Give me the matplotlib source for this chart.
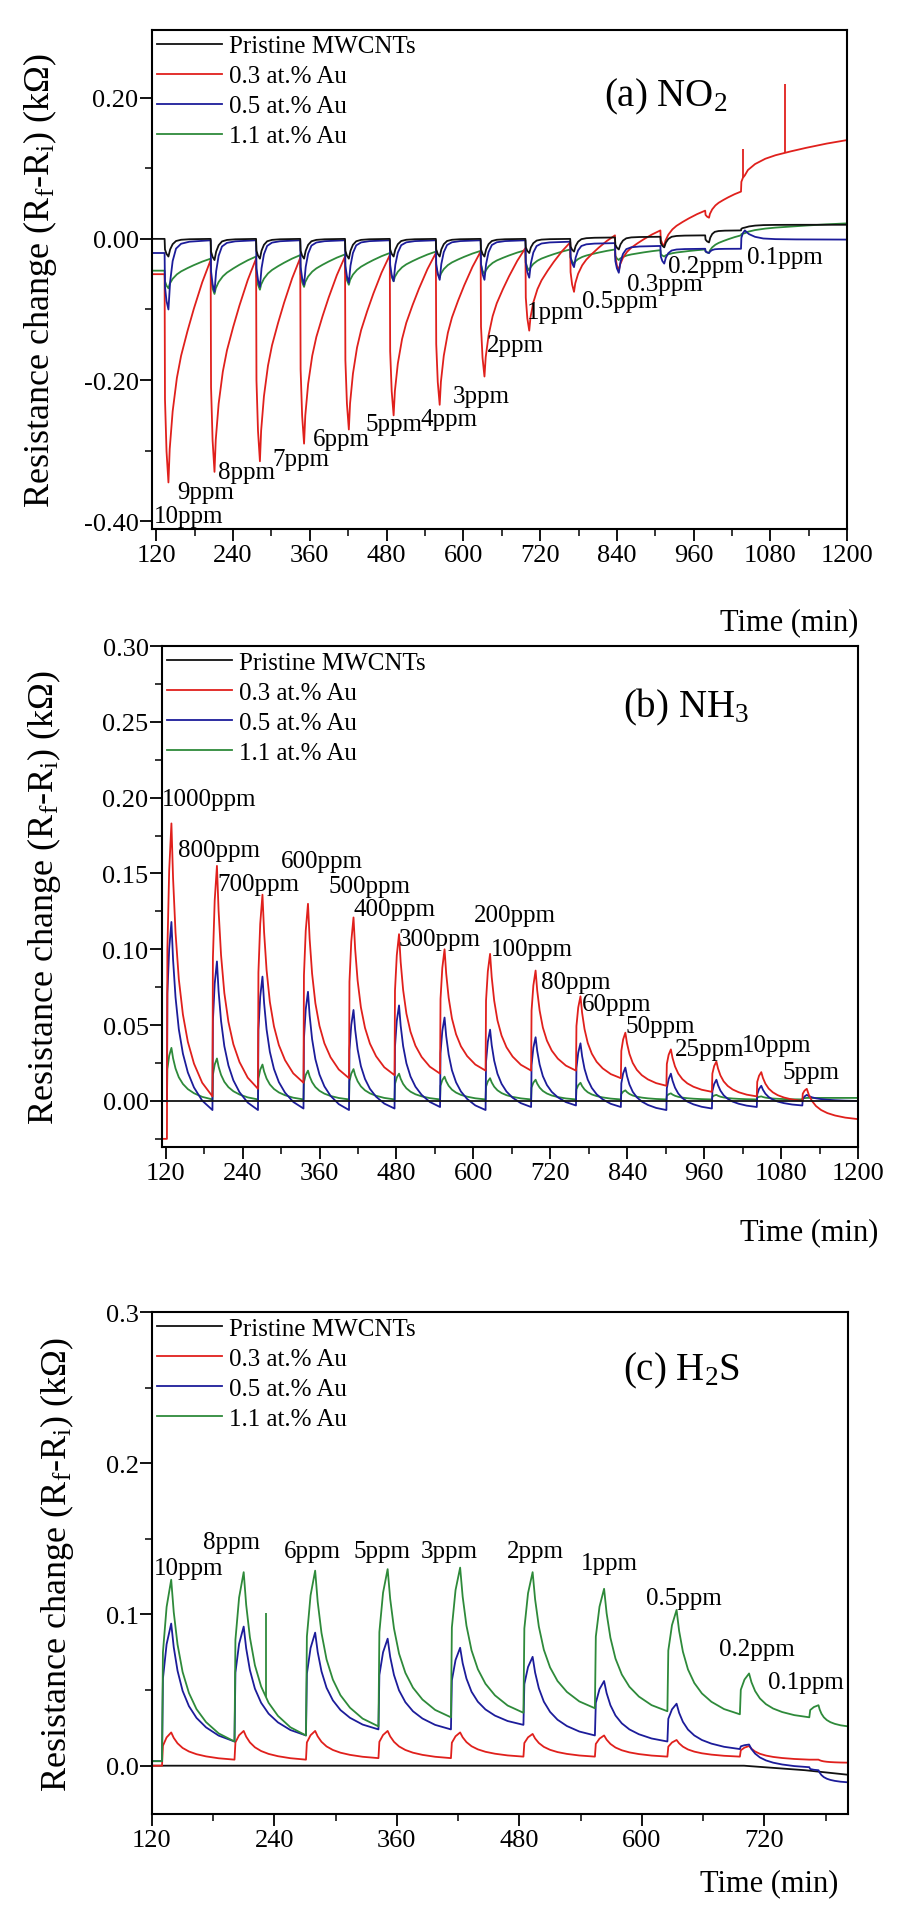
import numpy as np
import matplotlib
matplotlib.use("Agg")
import matplotlib.pyplot as plt
from matplotlib.ticker import MultipleLocator

plt.rcParams["font.family"] = ["Liberation Serif", "DejaVu Serif"]
plt.rcParams["mathtext.fontset"] = "custom"
plt.rcParams["mathtext.rm"] = "Liberation Serif"
plt.rcParams["mathtext.it"] = "Liberation Serif:italic"

# response shapes (fraction of cycle time -> fraction of amplitude)
RISE_S = [0.0, 0.1, 0.5, 1.0]
RISE_R = [0.0, 0.6, 0.85, 1.0]
SLOW_S = [0.0, 0.03, 0.1, 0.2, 0.3, 0.45, 0.6, 0.8, 1.0]
SLOW_R = [1.0, 0.85, 0.68, 0.53, 0.43, 0.32, 0.22, 0.1, 0.0]
FAST_S = [0.0, 0.04, 0.1, 0.18, 0.3, 0.5, 1.0]
FAST_R = [1.0, 0.6, 0.3, 0.12, 0.05, 0.02, 0.0]
DECAY_S = [0.0, 0.04, 0.1, 0.18, 0.28, 0.4, 0.55, 0.75, 1.0]
DECAY_R = [1.0, 0.8, 0.6, 0.43, 0.3, 0.2, 0.12, 0.05, 0.0]

# ---- (a) NO2 ----
a_onset = [133, 205, 276, 345, 415, 485, 557, 627, 697, 767, 837, 908, 978, 1034]
a_expo = 6
a_black_base = [0.000, 0.000, 0.000, 0.000, 0.000, 0.000, 0.000, 0.000, 0.000, 0.000, 0.002, 0.003, 0.005, 0.012]
a_black_peak = [-0.025, -0.030, -0.028, -0.028, -0.028, -0.025, -0.025, -0.025, -0.020, -0.018, -0.015, -0.012, -0.005, 0.016]
a_black_end = 0.020
a_red_base = [-0.050, -0.030, -0.028, -0.027, -0.025, -0.023, -0.020, -0.018, -0.013, -0.005, 0.005, 0.012, 0.040, 0.067]
a_red_peak = [-0.345, -0.330, -0.315, -0.290, -0.270, -0.250, -0.235, -0.195, -0.130, -0.075, -0.045, -0.010, 0.030, 0.090]
a_red_end = 0.140
a_red_spike_t = [1037, 1103]
a_red_spike_v = [0.128, 0.220]
a_blue_base = [-0.020, -0.002, -0.002, -0.002, -0.002, -0.002, -0.002, -0.002, -0.002, -0.004, -0.006, -0.010, -0.014, -0.014]
a_blue_peak = [-0.100, -0.075, -0.068, -0.065, -0.062, -0.060, -0.058, -0.058, -0.055, -0.040, -0.048, -0.035, -0.020, 0.012]
a_blue_end = -0.001
a_green_base = [-0.045, -0.028, -0.025, -0.023, -0.022, -0.020, -0.018, -0.017, -0.016, -0.015, -0.015, -0.016, -0.015, 0.005]
a_green_peak = [-0.070, -0.078, -0.072, -0.068, -0.065, -0.060, -0.055, -0.050, -0.045, -0.035, -0.030, -0.025, -0.020, 0.008]
a_green_end = 0.022
a_lbl_text = ["10ppm", "9ppm", "8ppm", "7ppm", "6ppm", "5ppm", "4ppm", "3ppm", "2ppm",
              "1ppm", "0.5ppm", "0.3ppm", "0.2ppm", "0.1ppm"]
a_lbl_t = [116, 152, 216, 302, 365, 447, 533, 583, 637, 700, 786, 856, 920, 1043]
a_lbl_v = [-0.393, -0.359, -0.330, -0.312, -0.284, -0.262, -0.255, -0.222, -0.151,
           -0.104, -0.088, -0.064, -0.038, -0.026]

# ---- (b) NH3 ----
b_onset = [122, 193, 264, 335, 406, 477, 548, 619, 690, 760, 830, 901, 972, 1042, 1113]
b_expo = 7
b_red_peak = [0.183, 0.155, 0.136, 0.130, 0.121, 0.110, 0.100, 0.097, 0.086, 0.069, 0.045, 0.034, 0.026, 0.019, 0.008]
b_red_base = [-0.025, 0.003, 0.008, 0.012, 0.015, 0.017, 0.018, 0.020, 0.020, 0.020, 0.015, 0.010, 0.006, 0.003, 0.000]
b_red_end = -0.012
b_blue_peak = [0.118, 0.092, 0.082, 0.072, 0.060, 0.063, 0.055, 0.047, 0.042, 0.038, 0.022, 0.018, 0.014, 0.010, 0.004]
b_blue_base = [0.000, -0.006, -0.006, -0.005, -0.006, -0.005, -0.004, -0.006, -0.004, -0.003, -0.004, -0.006, -0.005, -0.004, -0.003]
b_blue_end = 0.000
b_green_peak = [0.035, 0.028, 0.024, 0.020, 0.021, 0.018, 0.016, 0.015, 0.014, 0.012, 0.007, 0.005, 0.004, 0.003, 0.002]
b_green_base = [0.000, 0.001, 0.001, 0.001, 0.001, 0.001, 0.001, 0.001, 0.001, 0.001, 0.001, 0.001, 0.001, 0.001, 0.001]
b_green_end = 0.002
b_black_t = [114, 1200]
b_black_v = [0.0, 0.0]
b_lbl_text = ["1000ppm", "800ppm", "600ppm", "700ppm", "500ppm", "400ppm", "200ppm", "300ppm",
              "100ppm", "80ppm", "60ppm", "50ppm", "25ppm", "10ppm", "5ppm"]
b_lbl_t = [114, 139, 299, 200, 374, 413, 601, 483, 628, 705, 769, 837, 914, 1018, 1082]
b_lbl_v = [0.199, 0.1655, 0.158, 0.143, 0.142, 0.1266, 0.1227, 0.107, 0.100, 0.0785,
           0.064, 0.0495, 0.0344, 0.037, 0.019]

# ---- (c) H2S ----
c_onset = [130, 201, 271, 342, 413, 484, 554, 625, 696, 764]
c_expo = 9
c_green_peak = [0.123, 0.128, 0.129, 0.130, 0.131, 0.128, 0.117, 0.103, 0.061, 0.040]
c_green_base = [0.003, 0.016, 0.020, 0.026, 0.032, 0.035, 0.038, 0.036, 0.034, 0.032]
c_green_end = 0.026
c_green_spike_t = [232]
c_green_spike_v = [0.101]
c_blue_peak = [0.094, 0.092, 0.088, 0.084, 0.078, 0.072, 0.056, 0.041, 0.014, -0.003]
c_blue_base = [0.003, 0.016, 0.020, 0.024, 0.024, 0.027, 0.020, 0.016, 0.011, -0.001]
c_blue_end = -0.011
c_red_peak = [0.022, 0.023, 0.023, 0.023, 0.022, 0.021, 0.020, 0.017, 0.013, 0.004]
c_red_base = [0.000, 0.004, 0.004, 0.005, 0.005, 0.006, 0.006, 0.006, 0.006, 0.004]
c_red_end = 0.002
c_black_t = [120, 700, 760, 802]
c_black_v = [0.0, 0.0, -0.003, -0.006]
c_lbl_text = ["10ppm", "8ppm", "6ppm", "5ppm", "3ppm", "2ppm", "1ppm", "0.5ppm", "0.2ppm", "0.1ppm"]
c_lbl_t = [122, 170, 249, 318, 383, 468, 540, 604, 676, 724]
c_lbl_v = [0.131, 0.148, 0.142, 0.142, 0.142, 0.142, 0.134, 0.111, 0.0775, 0.0555]

series_names = ["Pristine MWCNTs", "0.3 at.% Au", "0.5 at.% Au", "1.1 at.% Au"]
BLACK, RED, BLUE, GREEN = "#111111", "#e0201c", "#1c1c9a", "#2e8a3a"
LW = 1.3


def response(onsets, bases, peaks, end, expo, t0, t1, decay_s, decay_r):
    t, v = [t0], [bases[0]]
    for i, on in enumerate(onsets):
        for s, r in zip(RISE_S, RISE_R):
            t.append(on + expo * s)
            v.append(bases[i] + (peaks[i] - bases[i]) * r)
        last = i + 1 == len(onsets)
        nxt = t1 if last else onsets[i + 1]
        b_nxt = end if last else bases[i + 1]
        top = on + expo
        for s, r in zip(decay_s[1:], decay_r[1:]):
            t.append(top + (nxt - top) * s)
            v.append(b_nxt + (peaks[i] - b_nxt) * r)
    return t, v


def style(ax, xlim, ylim, xmaj, ymaj, ymin, yfmt):
    ax.set_xlim(*xlim)
    ax.set_ylim(*ylim)
    ax.xaxis.set_major_locator(MultipleLocator(xmaj))
    ax.xaxis.set_minor_locator(MultipleLocator(xmaj / 2))
    ax.yaxis.set_major_locator(MultipleLocator(ymaj))
    ax.yaxis.set_minor_locator(MultipleLocator(ymin))
    ax.yaxis.set_major_formatter(lambda y, pos: yfmt % (0.0 if abs(y) < 1e-9 else y))
    ax.tick_params(which="major", direction="out", length=8.5, width=1.3, labelsize=19,
                   top=False, right=False)
    ax.tick_params(axis="y", which="major", pad=1)
    ax.tick_params(axis="x", which="major", pad=2)
    ax.tick_params(which="minor", direction="out", length=5, width=1.1, top=False, right=False)
    for sp in ax.spines.values():
        sp.set_linewidth(1.5)


def legend(ax, handles):
    ax.legend(handles, series_names, loc="upper left", bbox_to_anchor=(0, 1), frameon=False,
              fontsize=18, borderaxespad=0, borderpad=0.2, handlelength=2.6,
              handletextpad=0.3, labelspacing=0.3)


def labels(ax, texts, ts, vs):
    for s, x, y in zip(texts, ts, vs):
        ax.text(x, y, s, fontsize=18, ha="left", va="center")


ylab = "Resistance change (R$_\\mathrm{f}$-R$_\\mathrm{i}$) (k\u03a9)"

fig = plt.figure(figsize=(9.09, 19.08), dpi=100)
ax_a = fig.add_axes([0.167, 0.7222, 0.765, 0.2616])
ax_b = fig.add_axes([0.178, 0.3983, 0.766, 0.2626])
ax_c = fig.add_axes([0.167, 0.0487, 0.766, 0.2631])

# panel (a)
ax = ax_a
t, v = response(a_onset, a_green_base, a_green_peak, a_green_end, a_expo, 113, 1200, SLOW_S, SLOW_R)
hg, = ax.plot(t, v, color=GREEN, lw=LW)
t, v = response(a_onset, a_red_base, a_red_peak, a_red_end, a_expo, 113, 1200, SLOW_S, SLOW_R)
hr, = ax.plot(t, v, color=RED, lw=LW)
ax.vlines(a_red_spike_t, np.interp(a_red_spike_t, t, v), a_red_spike_v, color=RED, lw=LW)
t, v = response(a_onset, a_blue_base, a_blue_peak, a_blue_end, a_expo, 113, 1200, FAST_S, FAST_R)
hb, = ax.plot(t, v, color=BLUE, lw=LW)
t, v = response(a_onset, a_black_base, a_black_peak, a_black_end, a_expo, 113, 1200, FAST_S, FAST_R)
hk, = ax.plot(t, v, color=BLACK, lw=LW)
style(ax, (113, 1200), (-0.411, 0.296), 120, 0.2, 0.1, "%.2f")
legend(ax, [hk, hr, hb, hg])
labels(ax, a_lbl_text, a_lbl_t, a_lbl_v)
ax.text(917, 0.203, "(a) NO$_2$", fontsize=28, ha="center", va="center")
ax.set_ylabel(ylab, fontsize=26)
ax.yaxis.set_label_coords(-0.134, 0.5)
ax.set_xlabel("Time (min)", fontsize=22, ha="right")
ax.xaxis.set_label_coords(1.016, -0.156)

# panel (b)
ax = ax_b
t, v = response(b_onset, b_green_base, b_green_peak, b_green_end, b_expo, 114, 1200, DECAY_S, DECAY_R)
hg, = ax.plot(t, v, color=GREEN, lw=LW)
t, v = response(b_onset, b_blue_base, b_blue_peak, b_blue_end, b_expo, 114, 1200, DECAY_S, DECAY_R)
hb, = ax.plot(t, v, color=BLUE, lw=LW)
t, v = response(b_onset, b_red_base, b_red_peak, b_red_end, b_expo, 114, 1200, DECAY_S, DECAY_R)
hr, = ax.plot(t, v, color=RED, lw=LW)
hk, = ax.plot(b_black_t, b_black_v, color=BLACK, lw=LW)
style(ax, (114, 1200), (-0.0304, 0.30), 120, 0.05, 0.025, "%.2f")
legend(ax, [hk, hr, hb, hg])
labels(ax, b_lbl_text, b_lbl_t, b_lbl_v)
ax.text(932, 0.26, "(b) NH$_3$", fontsize=28, ha="center", va="center")
ax.set_ylabel(ylab, fontsize=26)
ax.yaxis.set_label_coords(-0.142, 0.5)
ax.set_xlabel("Time (min)", fontsize=22, ha="right")
ax.xaxis.set_label_coords(1.029, -0.14)

# panel (c)
ax = ax_c
hk, = ax.plot(c_black_t, c_black_v, color=BLACK, lw=LW)
t, v = response(c_onset, c_red_base, c_red_peak, c_red_end, c_expo, 120, 802, DECAY_S, DECAY_R)
hr, = ax.plot(t, v, color=RED, lw=LW)
t, v = response(c_onset, c_blue_base, c_blue_peak, c_blue_end, c_expo, 120, 802, DECAY_S, DECAY_R)
hb, = ax.plot(t, v, color=BLUE, lw=LW)
t, v = response(c_onset, c_green_base, c_green_peak, c_green_end, c_expo, 120, 802, DECAY_S, DECAY_R)
hg, = ax.plot(t, v, color=GREEN, lw=LW)
ax.vlines(c_green_spike_t, np.interp(c_green_spike_t, t, v), c_green_spike_v, color=GREEN, lw=LW)
style(ax, (120, 802), (-0.032, 0.30), 120, 0.1, 0.05, "%.1f")
legend(ax, [hk, hr, hb, hg])
labels(ax, c_lbl_text, c_lbl_t, c_lbl_v)
ax.text(639, 0.262, "(c) H$_2$S", fontsize=28, ha="center", va="center")
ax.set_ylabel(ylab, fontsize=26)
ax.yaxis.set_label_coords(-0.109, 0.5)
ax.set_xlabel("Time (min)", fontsize=22, ha="right")
ax.xaxis.set_label_coords(0.986, -0.108)

fig.savefig("out.png", dpi=100)
plt.close(fig)
